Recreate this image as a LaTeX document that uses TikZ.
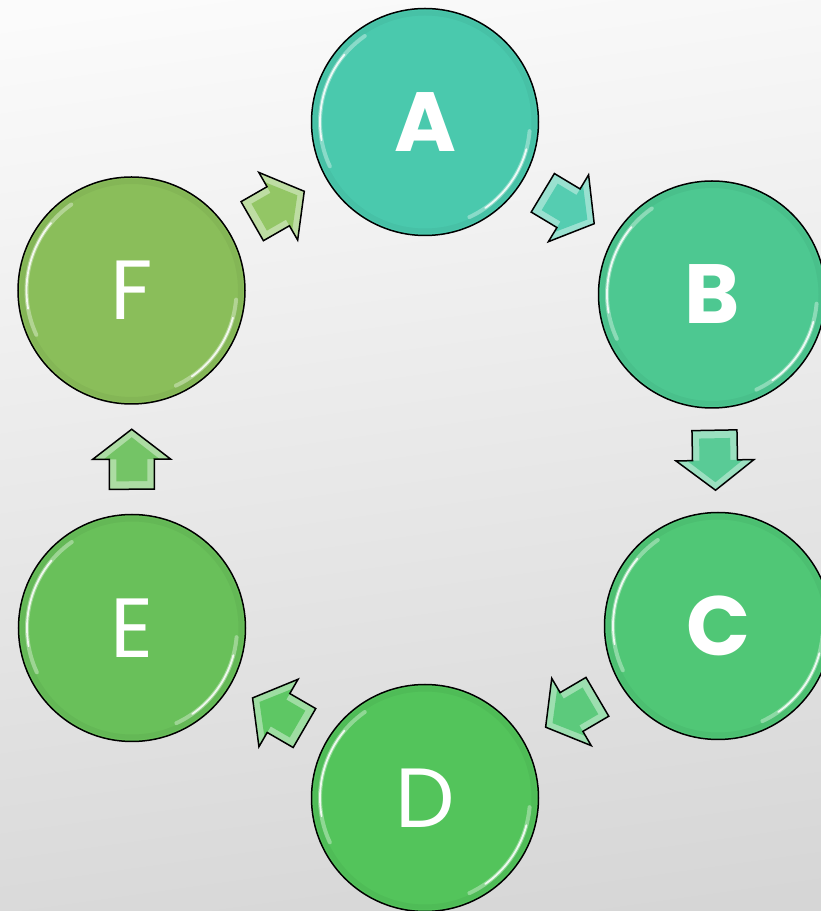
\documentclass[tikz,border=0pt]{standalone}
\usepackage{fontspec}
\setmainfont{Poppins}
\usetikzlibrary{calc}
\definecolor{cA}{HTML}{4AC9AD}
\definecolor{cB}{HTML}{4DC891}
\definecolor{cC}{HTML}{50C776}
\definecolor{cD}{HTML}{53C45B}
\definecolor{cE}{HTML}{69C05A}
\definecolor{cF}{HTML}{8ABE5A}
\definecolor{aAB}{HTML}{55CDB1}
\definecolor{aBC}{HTML}{59CB96}
\definecolor{aCD}{HTML}{5CCA7C}
\definecolor{aDE}{HTML}{5EC764}
\definecolor{aEF}{HTML}{74C466}
\definecolor{aFA}{HTML}{93C665}
\definecolor{bgtop}{HTML}{FBFBFB}
\definecolor{bgbot}{HTML}{D6D6D6}
\newcommand\arrpoly[3]{($(m)-#1*(u)+#2*(n)$) -- ($(m)+#2*(n)$) -- ($(m)+#3*(n)$) -- ($(m)+#1*(u)$) -- ($(m)-#3*(n)$) -- ($(m)-#2*(n)$) -- ($(m)-#1*(u)-#2*(n)$) -- cycle}
\newcommand\blockarr[3]{%
  \coordinate (m) at ($(#1.center)!0.5!(#2.center)$);
  \coordinate (u) at ($(m)!1pt!(#2.center)-(m)$);
  \coordinate (n) at ($(m)!1pt!90:(#2.center)-(m)$);
  \fill[#3!60!white] \arrpoly{30}{22.5}{39};
  \fill[#3] \arrpoly{22}{15.5}{28};
  \draw[line width=1.5pt,line join=miter] \arrpoly{30}{22.5}{39};
}
\begin{document}
\begin{tikzpicture}[x=1pt,y=1pt,
  ball/.style={circle,draw=black,line width=1.5pt,minimum size=227pt,inner sep=0pt,
    text=white,font=\fontsize{84}{84}\selectfont},
  gloss/.style={white,line cap=round}]
\useasboundingbox (0,0) rectangle (820,911);
\shade[top color=bgtop,bottom color=bgbot,shading angle=8] (-40,-40) rectangle (860,951);
\node[ball,fill=cA,font=\fontsize{84}{84}\selectfont\bfseries] (A) at (425,789) {A};
\node[ball,fill=cB,font=\fontsize{84}{84}\selectfont\bfseries] (B) at (712,616.5) {B};
\node[ball,fill=cC,font=\fontsize{84}{84}\selectfont\bfseries] (C) at (718,285) {C};
\node[ball,fill=cD] (D) at (425,113) {D};
\node[ball,fill=cE] (E) at (132,283) {E};
\node[ball,fill=cF] (F) at (131.5,620.5) {F};
\foreach \n in {A,B,C,D,E,F}{
  \draw[black,opacity=.04,line width=5pt] (\n.center) circle[radius=109];
  \draw[gloss,opacity=.35,line width=4pt] ($(\n.center)+(125:105)$) arc[start angle=125,end angle=205,radius=105];
  \draw[gloss,opacity=.85,line width=1.8pt] ($(\n.center)+(140:105)$) arc[start angle=140,end angle=190,radius=105];
  \draw[gloss,opacity=.35,line width=4pt] ($(\n.center)+(-5:105)$) arc[start angle=-5,end angle=-65,radius=105];
  \draw[gloss,opacity=.85,line width=1.8pt] ($(\n.center)+(-15:105)$) arc[start angle=-15,end angle=-55,radius=105];
}
\blockarr{A}{B}{aAB}
\blockarr{B}{C}{aBC}
\blockarr{C}{D}{aCD}
\blockarr{D}{E}{aDE}
\blockarr{E}{F}{aEF}
\blockarr{F}{A}{aFA}
\end{tikzpicture}
\end{document}
